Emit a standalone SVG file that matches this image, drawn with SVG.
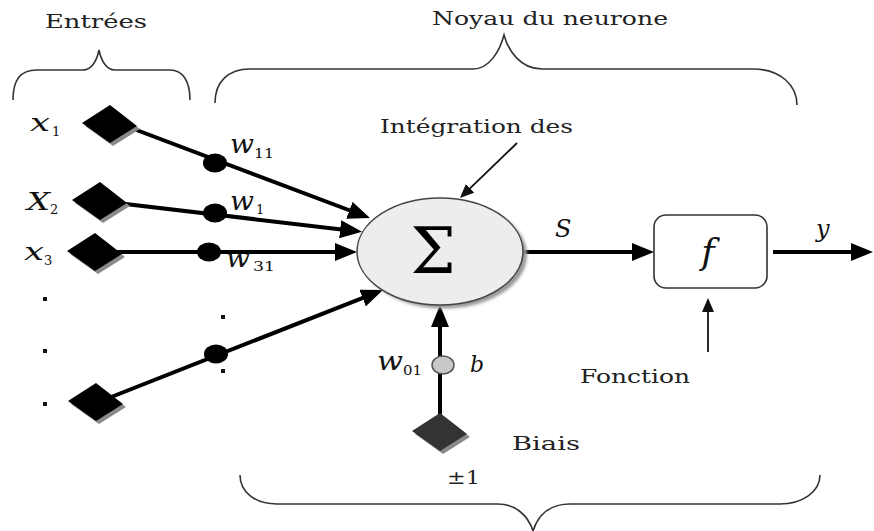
<svg xmlns="http://www.w3.org/2000/svg" width="874" height="531" viewBox="0 0 874 531">
  <style>
    .lbl { font-family: "DejaVu Serif", "Liberation Serif", serif; fill: #222; }
    .math { font-family: "DejaVu Serif", "Liberation Serif", serif; font-style: italic; fill: #111; }
    .sub { font-family: "DejaVu Serif", "Liberation Serif", serif; font-size: 13px; fill: #111; }
    .brace { fill: none; stroke: #333; stroke-width: 1.6; }
    .wire { fill: none; stroke: #000; stroke-width: 4; }
    .thin { fill: none; stroke: #111; stroke-width: 1.8; }
    .diamond { fill: #000; }
    .shadow { fill: #8a8a8a; }
    .weight { fill: #000; }
    .dot { fill: #111; }
  </style>
  <defs>
    <path id="dia" d="M-28,-1 L0,-19 L27,2 L0,19 Z"/>
    <marker id="head" markerUnits="userSpaceOnUse" markerWidth="22" markerHeight="18" viewBox="0 0 22 18" refX="12" refY="9" orient="auto">
      <path d="M0,0 L22,9 L0,18 Z" fill="#000"/>
    </marker>
    <marker id="headThin" markerUnits="userSpaceOnUse" markerWidth="14" markerHeight="12" viewBox="0 0 14 12" refX="8" refY="6" orient="auto">
      <path d="M0,0 L14,6 L0,12 Z" fill="#111"/>
    </marker>
    <filter id="soft" x="-20%" y="-20%" width="140%" height="140%">
      <feGaussianBlur stdDeviation="1.5"/>
    </filter>
  </defs>

  <!-- Braces and their captions -->
  <g id="brace-inputs">
    <path class="brace" d="M13,100 C13,80 20,70 37,70 L83,70 C92,70 97,60 99,50 C101,60 106,70 115,70 L170,70 C182,70 190,80 190,100"/>
    <text class="lbl" x="45" y="28" font-size="18" textLength="102" lengthAdjust="spacingAndGlyphs">Entrées</text>
  </g>
  <g id="brace-core">
    <path class="brace" d="M215,103 C215,82 228,69 250,69 L473,69 C490,69 500,50 504,35 C508,50 520,69 542,69 L753,69 C780,69 797,85 797,105"/>
    <text class="lbl" x="432" y="25" font-size="19" textLength="236" lengthAdjust="spacingAndGlyphs">Noyau du neurone</text>
  </g>
  <g id="brace-bottom">
    <path class="brace" d="M240,475 C240,492 255,504 277,504 L498,504 C515,504 528,515 533,531 C538,515 550,504 570,504 L780,504 C802,504 820,492 820,475"/>
  </g>

  <!-- Weight labels (drawn beneath the wires) -->
  <g id="weight-labels">
    <text class="math" x="230" y="153" font-size="26" textLength="24" lengthAdjust="spacingAndGlyphs">w</text>
    <text class="sub" x="254" y="158" textLength="20" lengthAdjust="spacingAndGlyphs">11</text>
    <text class="math" x="230" y="210" font-size="26" textLength="24" lengthAdjust="spacingAndGlyphs">w</text>
    <text class="sub" x="256" y="214">1</text>
    <text class="math" x="226" y="267" font-size="26" textLength="24" lengthAdjust="spacingAndGlyphs">w</text>
    <text class="sub" x="253" y="271" textLength="22" lengthAdjust="spacingAndGlyphs">31</text>
  </g>

  <!-- Connectors -->
  <g id="connectors">
    <line class="wire" x1="110" y1="120" x2="360.6" y2="214.5" marker-end="url(#head)"/>
    <line class="wire" x1="100" y1="201" x2="352.1" y2="230.7" marker-end="url(#head)"/>
    <line class="wire" x1="95" y1="252" x2="347" y2="252" marker-end="url(#head)"/>
    <line class="wire" x1="96" y1="403" x2="373.7" y2="293.6" marker-end="url(#head)"/>
    <line class="wire" x1="440" y1="432" x2="440" y2="315" marker-end="url(#head)"/>
    <line class="wire" x1="523" y1="252" x2="644" y2="252" marker-end="url(#head)"/>
    <line class="wire" x1="773" y1="252" x2="863" y2="252" marker-end="url(#head)"/>
    <line class="thin" x1="517" y1="143" x2="464.3" y2="193.8" marker-end="url(#headThin)"/>
    <line class="thin" x1="708" y1="352" x2="708" y2="304" marker-end="url(#headThin)"/>
  </g>

  <!-- Input nodes -->
  <g id="input-x1">
    <use href="#dia" class="shadow" x="113" y="127"/>
    <use href="#dia" class="diamond" x="110" y="124"/>
    <text class="math" x="30" y="131" font-size="24" textLength="20" lengthAdjust="spacingAndGlyphs">x</text>
    <text class="sub" x="52" y="136">1</text>
  </g>
  <g id="input-x2">
    <use href="#dia" class="shadow" x="103" y="204"/>
    <use href="#dia" class="diamond" x="100" y="201"/>
    <text class="math" x="27" y="210" font-size="25" textLength="23" lengthAdjust="spacingAndGlyphs">X</text>
    <text class="sub" x="50" y="214">2</text>
  </g>
  <g id="input-x3">
    <use href="#dia" class="shadow" x="98" y="255"/>
    <use href="#dia" class="diamond" x="95" y="252"/>
    <text class="math" x="24" y="260" font-size="24" textLength="20" lengthAdjust="spacingAndGlyphs">x</text>
    <text class="sub" x="44" y="265">3</text>
  </g>
  <g id="input-xn">
    <use href="#dia" class="shadow" x="99" y="405"/>
    <use href="#dia" class="diamond" x="96" y="402"/>
  </g>
  <g id="ellipsis-dots">
    <rect class="dot" x="43" y="297" width="4" height="4"/>
    <rect class="dot" x="43" y="349" width="4" height="4"/>
    <rect class="dot" x="43" y="402" width="4" height="4"/>
    <rect class="dot" x="221" y="315" width="4" height="4"/>
    <rect class="dot" x="221" y="369" width="4" height="4"/>
  </g>

  <!-- Synaptic weights -->
  <g id="weight-1"><ellipse class="weight" cx="215" cy="163" rx="12" ry="9.5"/></g>
  <g id="weight-2"><ellipse class="weight" cx="215" cy="213" rx="12" ry="9.5"/></g>
  <g id="weight-3"><ellipse class="weight" cx="209" cy="252" rx="12" ry="9.5"/></g>
  <g id="weight-n"><ellipse class="weight" cx="216" cy="354" rx="12" ry="9.5"/></g>

  <!-- Bias -->
  <g id="bias">
    <use href="#dia" class="shadow" x="443" y="435"/>
    <use href="#dia" fill="#333" x="440" y="432"/>
    <text class="lbl" x="512" y="450" font-size="18" textLength="68" lengthAdjust="spacingAndGlyphs">Biais</text>
    <text class="lbl" x="447" y="484" font-size="18" textLength="33" lengthAdjust="spacingAndGlyphs">±1</text>
  </g>
  <g id="bias-weight">
    <ellipse cx="443" cy="365" rx="11" ry="9" fill="#c8c8c8" stroke="#555" stroke-width="1.5"/>
    <text class="math" x="377" y="370" font-size="26" textLength="26" lengthAdjust="spacingAndGlyphs">w</text>
    <text class="sub" x="403" y="375" textLength="19" lengthAdjust="spacingAndGlyphs">01</text>
    <text class="math" x="470" y="372" font-size="22">b</text>
  </g>

  <!-- Summation unit -->
  <g id="summation">
    <ellipse cx="444" cy="255" rx="83" ry="53.5" fill="#9a9a9a" filter="url(#soft)"/>
    <ellipse cx="440" cy="251.5" rx="83" ry="53.5" fill="#ededed" stroke="#444" stroke-width="1.5"/>
    <text x="433" y="273" font-family="DejaVu Serif, Liberation Serif, serif" font-size="64" text-anchor="middle" fill="#000">Σ</text>
    <text class="lbl" x="380" y="133" font-size="19" textLength="193" lengthAdjust="spacingAndGlyphs">Intégration des</text>
    <text class="math" x="555" y="237" font-size="24">S</text>
  </g>

  <!-- Activation function -->
  <g id="activation">
    <rect x="654" y="215" width="113" height="73" rx="12" ry="12" fill="#fff" stroke="#333" stroke-width="1.6"/>
    <text class="math" x="708" y="264" font-size="36" text-anchor="middle">f</text>
    <text class="lbl" x="580" y="383" font-size="18" textLength="110" lengthAdjust="spacingAndGlyphs">Fonction</text>
  </g>

  <g id="output">
    <text class="math" x="816" y="237" font-size="24">y</text>
  </g>
</svg>
